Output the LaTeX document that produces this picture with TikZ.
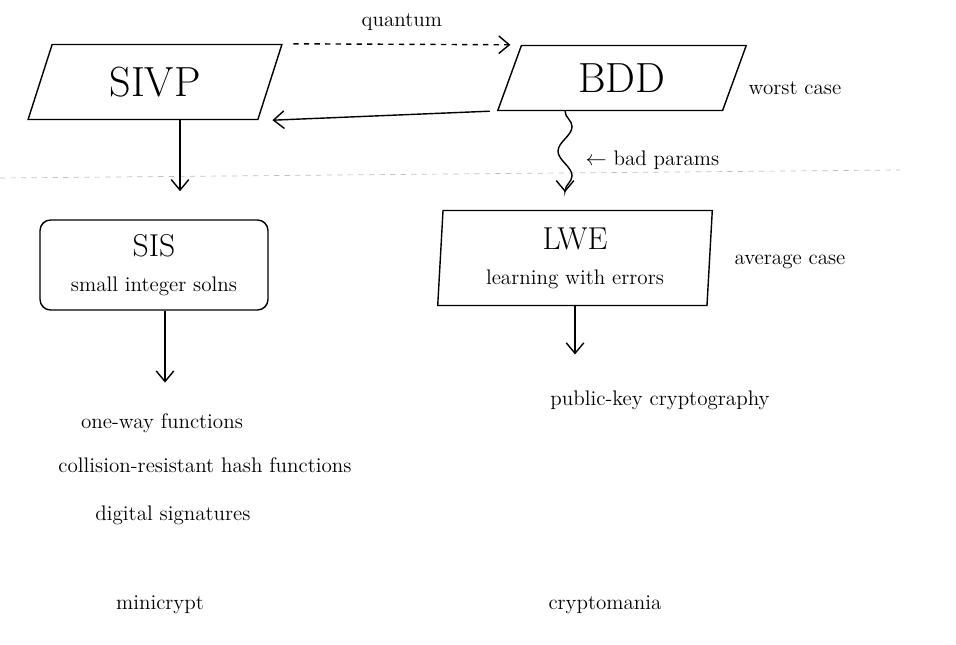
\documentclass[tikz,border=0pt]{standalone}
\usepackage{tikz}
\usetikzlibrary{arrows.meta,shapes.geometric,decorations.pathmorphing}

\begin{document}
\begin{tikzpicture}[x=0.02cm, y=-0.02cm, font=\large,
	slantbox/.style={draw, shape=trapezium, trapezium left angle=74, trapezium right angle=106, trapezium stretches=true, line width=0.8pt},
	roundbox/.style={draw, rectangle, rounded corners=6pt, line width=0.8pt},
	hand/.style={-{Straight Barb[length=6pt,width=10pt]}, line width=0.8pt},
	bigname/.style={font=\fontsize{24}{28}\selectfont}]
	\useasboundingbox (0,0) rectangle (956,645);
	% worst case
	\node[slantbox, bigname, minimum width=5.1cm, minimum height=1.5cm] (sivp) at (155,82) {SIVP};
	\node[slantbox, bigname, minimum width=5cm, minimum height=1.3cm] (bdd) at (622,78) {BDD};
	\node (worst) at (795,88) {worst case};
	\draw[hand, dashed] ([xshift=6pt]sivp.top right corner) -- node[above=4pt] {quantum} ([xshift=-6pt]bdd.top left corner);
	\draw[hand] ([xshift=-4pt]bdd.bottom left corner) -- ([xshift=8pt]sivp.bottom right corner);
	\draw[gray!50, dashed] (0,178) -- (900,170);
	% average case
	\node[roundbox, minimum width=4.56cm, minimum height=1.8cm, align=center] (sis) at (154,265) {\fontsize{18}{20}\selectfont SIS\\[6pt] small integer solns};
	\node[slantbox, trapezium left angle=87, trapezium right angle=93, minimum width=5.5cm, minimum height=1.9cm, align=center] (lwe) at (575,258) {\fontsize{18}{20}\selectfont LWE\\[6pt] learning with errors};
	\node (avg) at (790,262) {average case};
	\draw[hand, shorten >=16pt] ([xshift=0.5cm]sivp.south) -- ([xshift=0.5cm]sivp.south |- sis.north);
	\draw[hand, shorten >=10pt, decorate, decoration={snake, amplitude=4pt, segment length=28pt, post length=8pt}] ([xshift=-1.14cm]bdd.south) -- node[right=8pt] {$\leftarrow$ bad params} ([xshift=-1.14cm]bdd.south |- lwe.north);
	% consequences
	\node (owf) at (162,423) {one-way functions};
	\node (crhf) at (205,465) {collision-resistant hash functions};
	\node (sig) at (173,515) {digital signatures};
	\node (pkc) at (660,400) {public-key cryptography};
	\draw[hand, shorten >=14pt] ([xshift=0.22cm]sis.south) -- ([xshift=0.22cm]sis.south |- owf.north);
	\draw[hand, shorten >=17pt] (lwe.south) -- (lwe.south |- pkc.north);
	\node (mini) at (160,605) {minicrypt};
	\node (mania) at (605,605) {cryptomania};
\end{tikzpicture}
\end{document}
